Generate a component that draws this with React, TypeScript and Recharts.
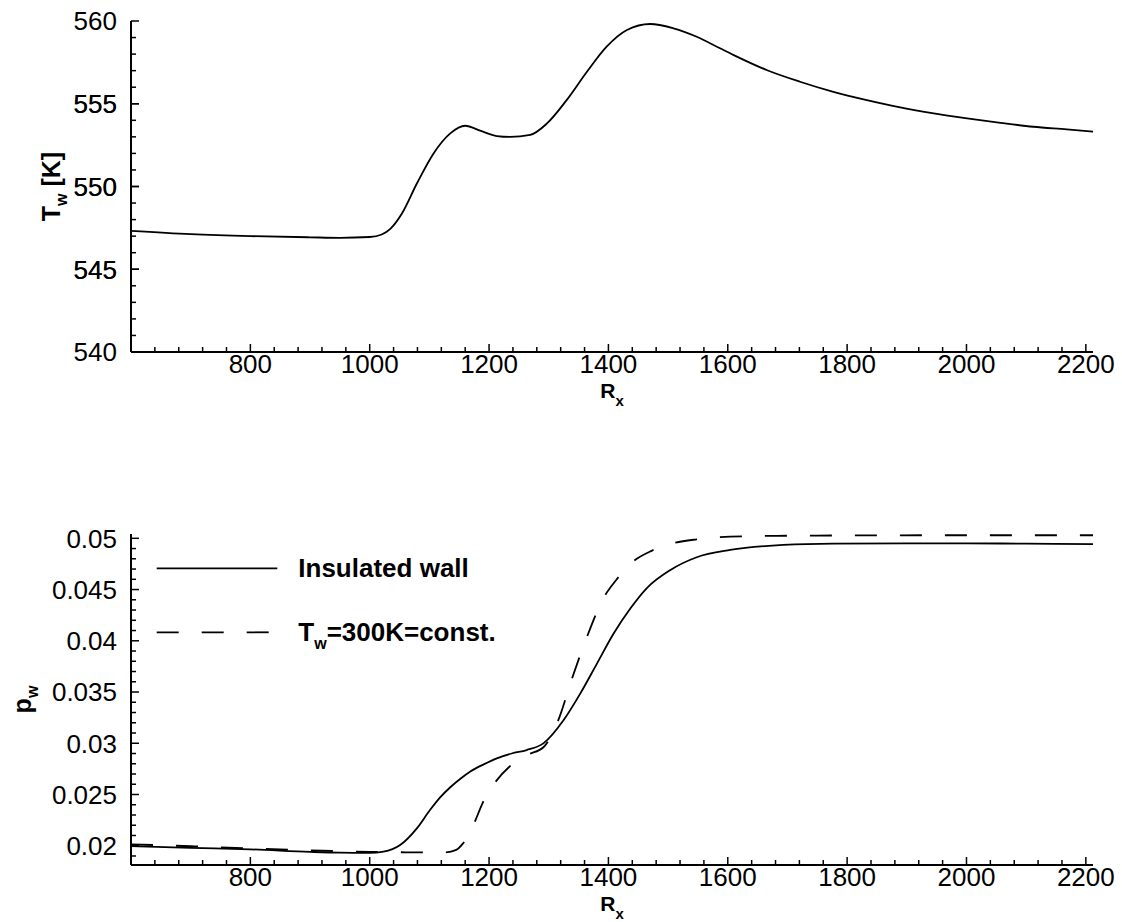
import React from "react";
import { LineChart, Line, XAxis, YAxis, Legend } from "recharts";

// wall temperature, insulated wall
const rxTemp = [600, 700, 800, 900, 950, 1000, 1020, 1035, 1054, 1079, 1107, 1135, 1160, 1185, 1213, 1235, 1269, 1297, 1330, 1364, 1397, 1431, 1470, 1509, 1548, 1587, 1610, 1665, 1721, 1777, 1833, 1889, 1945, 2001, 2057, 2112, 2168, 2212];
const tempWall = [547.32, 547.12, 547.0, 546.93, 546.9, 546.95, 547.1, 547.46, 548.37, 550.18, 552.0, 553.21, 553.67, 553.37, 553.05, 553.0, 553.12, 553.81, 555.22, 556.93, 558.45, 559.46, 559.82, 559.56, 559.05, 558.35, 557.94, 557.04, 556.33, 555.72, 555.22, 554.78, 554.42, 554.12, 553.85, 553.61, 553.45, 553.31];

// wall pressure
const rxInsulated = [600, 700, 800, 900, 950, 1000, 1023, 1051, 1079, 1101, 1118, 1135, 1152, 1168, 1191, 1213, 1238, 1263, 1291, 1325, 1353, 1381, 1409, 1437, 1464, 1504, 1548, 1604, 1693, 1777, 1900, 2000, 2100, 2212];
const pInsulated = [0.01997, 0.0198, 0.01965, 0.0194, 0.01932, 0.0193, 0.01942, 0.02007, 0.0217, 0.02348, 0.02472, 0.02571, 0.02654, 0.02722, 0.02794, 0.02853, 0.029, 0.02934, 0.02999, 0.03227, 0.03487, 0.0378, 0.04073, 0.04317, 0.04512, 0.04691, 0.04815, 0.04886, 0.04935, 0.04948, 0.0495, 0.0495, 0.04948, 0.04944];
const rxCold = [600, 700, 800, 900, 1000, 1068, 1126, 1145, 1156, 1175, 1189, 1209, 1234, 1264, 1292, 1315, 1340, 1362, 1393, 1413, 1441, 1469, 1508, 1548, 1604, 1700, 1800, 2000, 2212];
const pCold = [0.02014, 0.01995, 0.01975, 0.01955, 0.0194, 0.01936, 0.01936, 0.0196, 0.0202, 0.02219, 0.02414, 0.02609, 0.02771, 0.02885, 0.02966, 0.0321, 0.03649, 0.04007, 0.0443, 0.04593, 0.04772, 0.04869, 0.04951, 0.0499, 0.05016, 0.05025, 0.05028, 0.0503, 0.0503];

// axis ticks
const xMajor = [800, 1000, 1200, 1400, 1600, 1800, 2000, 2200];
const tMajor = [540, 545, 550, 555, 560];
const pMajor = [0.02, 0.025, 0.03, 0.035, 0.04, 0.045, 0.05];

const xMinor: number[] = [];
for (let v = 640; v <= 2200; v += 40) xMinor.push(v);
const tMinor: number[] = [];
for (let v = 541; v < 560; v++) tMinor.push(v);
const pMinor: number[] = [];
for (let i = 19; i <= 50; i++) pMinor.push(i / 1000);

const tempData = rxTemp.map((rx, i) => ({ rx, t: tempWall[i] }));
const insulatedData = rxInsulated.map((rx, i) => ({ rx, p: pInsulated[i] }));
const coldData = rxCold.map((rx, i) => ({ rx, p: pCold[i] }));

const FONT = "'Liberation Sans', Arial, Helvetica, sans-serif";
const DASH = "22 23";

// "T_w" -> T with subscript w
function subText(str: string, size: number, subSize: number, shift: number) {
    const parts = str.split(/_(\w)/);
    const out: React.ReactNode[] = [];
    let down = false;
    parts.forEach((p, i) => {
        if (i % 2 === 1) {
            out.push(<tspan key={i} fontSize={subSize} dy={shift}>{p}</tspan>);
            down = true;
        } else if (p) {
            out.push(<tspan key={i} fontSize={size} dy={down ? -shift : 0}>{p}</tspan>);
            down = false;
        }
    });
    return out;
}

const isMajor = (v: number, majors: number[]) => majors.some((m) => Math.abs(m - v) < 1e-9);

function XTick(props: any) {
    const { x, y, payload } = props;
    const major = isMajor(payload.value, xMajor);
    return (
        <g>
            <line x1={x} x2={x} y1={y} y2={y - (major ? 8 : 5)} stroke="#000" strokeWidth={1.5} />
            {major && (
                <text x={x} y={y + 21} textAnchor="middle" fontSize={26} fontFamily={FONT} fill="#000">
                    {payload.value}
                </text>
            )}
        </g>
    );
}

function makeYTick(majors: number[]) {
    return function YTick(props: any) {
        const { x, y, payload } = props;
        const major = isMajor(payload.value, majors);
        return (
            <g>
                <line x1={x} x2={x + (major ? 8 : 5)} y1={y} y2={y} stroke="#000" strokeWidth={1.5} />
                {major && (
                    <text x={x - 14} y={y} dy="0.36em" textAnchor="end" fontSize={26} fontFamily={FONT} fill="#000">
                        {payload.value}
                    </text>
                )}
            </g>
        );
    };
}

const TTick = makeYTick(tMajor);
const PTick = makeYTick(pMajor);

function XTitle(props: any) {
    const { x, y, width } = props.viewBox;
    return (
        <text x={x + width / 2} y={y + 46} textAnchor="middle" fontWeight="bold" fontFamily={FONT} fill="#000">
            {subText("R_x", 21, 15, 8)}
        </text>
    );
}

function yTitle(label: string, bx: number) {
    return function YTitle(props: any) {
        const { y, height } = props.viewBox;
        const cy = y + height / 2;
        return (
            <text x={bx} y={cy} textAnchor="middle" fontWeight="bold" fontFamily={FONT} fill="#000" transform={`rotate(-90 ${bx} ${cy})`}>
                {subText(label, 25, 16, 7)}
            </text>
        );
    };
}

function LegendBox(props: any) {
    const { payload } = props;
    return (
        <svg width={420} height={110} style={{ display: "block" }}>
            {(payload || []).map((entry: any, i: number) => {
                const ly = 20.3 + i * 64;
                return (
                    <g key={i}>
                        <line x1={6.7} x2={127.3} y1={ly} y2={ly} stroke="#000" strokeWidth={1.8}
                            strokeDasharray={entry.payload?.strokeDasharray} />
                        <text x={148.3} y={ly + 8.8} fontSize={26} fontWeight="bold" fontFamily={FONT} fill="#000">
                            {subText(entry.value, 26, 16, 8)}
                        </text>
                    </g>
                );
            })}
        </svg>
    );
}

const axisStroke = { stroke: "#000", strokeWidth: 2 };

export default function App() {
    return (
        <div style={{ position: "absolute", left: 0, top: 0, width: 1122, height: 922, background: "#fff", fontFamily: FONT }}>
            <div style={{ position: "absolute", left: 0, top: 0 }}>
                <LineChart width={1122} height={440} margin={{ top: 21, right: 29, bottom: 0, left: 0 }}>
                    <XAxis dataKey="rx" type="number" domain={[600, 2212]} ticks={xMinor} interval={0}
                        height={88} tickSize={0} tickMargin={0} tickLine={false} axisLine={axisStroke}
                        tick={<XTick />} label={{ content: <XTitle /> }} allowDataOverflow />
                    <YAxis type="number" domain={[540, 560]} ticks={tMinor.concat(tMajor)} interval={0}
                        width={131} tickSize={0} tickMargin={0} tickLine={false} axisLine={axisStroke}
                        tick={<TTick />} label={{ content: React.createElement(yTitle("T_w [K]", 60)) }} allowDataOverflow />
                    <Line data={tempData} dataKey="t" type="monotone" stroke="#000" strokeWidth={1.8}
                        dot={false} isAnimationActive={false} />
                </LineChart>
            </div>
            <div style={{ position: "absolute", left: 0, top: 470 }}>
                <LineChart width={1122} height={452} margin={{ top: 64, right: 29, bottom: 0, left: 0 }}>
                    <XAxis dataKey="rx" type="number" domain={[600, 2212]} ticks={xMinor} interval={0}
                        height={57} tickSize={0} tickMargin={0} tickLine={false} axisLine={axisStroke}
                        tick={<XTick />} label={{ content: <XTitle /> }} allowDataOverflow />
                    <YAxis type="number" domain={[0.01812, 0.05042]} ticks={pMinor} interval={0}
                        width={131} tickSize={0} tickMargin={0} tickLine={false} axisLine={axisStroke}
                        tick={<PTick />} label={{ content: React.createElement(yTitle("p_w", 31)) }} allowDataOverflow />
                    <Legend layout="vertical" align="center" verticalAlign="middle" content={<LegendBox />}
                        wrapperStyle={{ left: 150, top: 78, width: 420, height: 110 }} />
                    <Line data={insulatedData} dataKey="p" name="Insulated wall" type="monotone" stroke="#000"
                        strokeWidth={1.8} dot={false} isAnimationActive={false} />
                    <Line data={coldData} dataKey="p" name="T_w=300K=const." type="monotone" stroke="#000"
                        strokeWidth={1.8} strokeDasharray={DASH} dot={false} isAnimationActive={false} />
                </LineChart>
            </div>
        </div>
    );
}
